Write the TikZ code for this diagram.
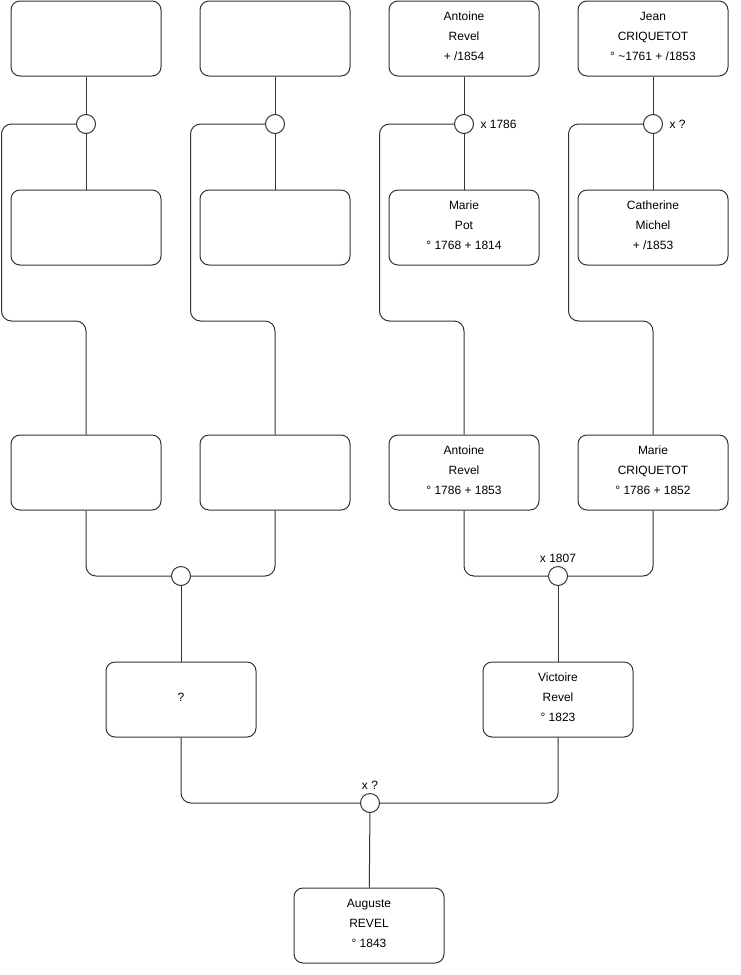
\documentclass[tikz,border=0pt]{standalone}
\usepackage{fontspec}
\setmainfont{Liberation Sans}
\usepackage{xcolor}
\usetikzlibrary{calc, positioning}
\definecolor{LineGray}{HTML}{333333}

\begin{document}
\begin{tikzpicture}[x=1pt, y=-1pt, line width=1pt,
        person/.style={draw=LineGray, rounded corners=9pt, fill=white,
                    minimum width=150pt, minimum height=75pt, text depth=5pt,
                    align=center, font=\fontsize{12}{20}\selectfont},
        union/.style={draw=LineGray, circle, fill=white, inner sep=0pt,
                    minimum size=19pt},
        wed/.style={font=\fontsize{12}{14}\selectfont, inner sep=2pt},
        link/.style={draw=LineGray, rounded corners=10pt}]

        \useasboundingbox (0,0) rectangle (740,975);

        % Great-grandparents (fathers)
        \node[person] (ff) at (86,38.5)  {};
        \node[person] (mf) at (275,38.5) {};
        \node[person] (af) at (464,38.5) {Antoine\\Revel\\+ /1854};
        \node[person] (jf) at (653,38.5) {Jean\\CRIQUETOT\\° \textasciitilde1761 + /1853};

        % Great-grandparents (mothers)
        \node[person] (fm) at (86,227.5)  {};
        \node[person] (mm) at (275,227.5) {};
        \node[person] (am) at (464,227.5) {Marie\\Pot\\° 1768 + 1814};
        \node[person] (jm) at (653,227.5) {Catherine\\Michel\\+ /1853};

        % Grandparents
        \node[person] (gf)  at (86,472.5)  {};
        \node[person] (gm)  at (275,472.5) {};
        \node[person] (ar)  at (464,472.5) {Antoine\\Revel\\° 1786 + 1853};
        \node[person] (mc)  at (653,472.5) {Marie\\CRIQUETOT\\° 1786 + 1852};

        % Parents
        \node[person] (father) at (181,699.5) {?};
        \node[person] (mother) at (558,699.5) {Victoire\\Revel\\° 1823};

        % Child
        \node[person] (child) at (369,925.5) {Auguste\\REVEL\\° 1843};

        % Unions
        \node[union] (u1) at (86,124)  {};
        \node[union] (u2) at (275,124) {};
        \node[union] (u3) at (464,124) {};
        \node[union] (u4) at (653,124) {};
        \node[union] (u5) at (181,576) {};
        \node[union] (u6) at (558,576) {};
        \node[union] (u7) at (370,803) {};

        % Bends of the side links
        \coordinate (k1) at (1.5,321);
        \coordinate (k2) at (190.5,321);
        \coordinate (k3) at (379.5,321);
        \coordinate (k4) at (568.5,321);

        % Couples
        \foreach \f/\u/\m in {ff/u1/fm, mf/u2/mm, af/u3/am, jf/u4/jm} {
          \draw[LineGray] (\f) -- (\u);
          \draw[LineGray] (\u) -- (\m);
        }

        % Unions down to their children
        \draw[link] (u1.west) -| (k1) -| (gf.north);
        \draw[link] (u2.west) -| (k2) -| (gm.north);
        \draw[link] (u3.west) -| (k3) -| (ar.north);
        \draw[link] (u4.west) -| (k4) -| (mc.north);

        \draw[link] (gf.south) |- (u5.west);
        \draw[link] (gm.south) |- (u5.east);
        \draw[link] (ar.south) |- (u6.west);
        \draw[link] (mc.south) |- (u6.east);
        \draw[LineGray] (u5) -- (father);
        \draw[LineGray] (u6) -- (mother);

        \draw[link] (father.south) |- (u7.west);
        \draw[link] (mother.south) |- (u7.east);
        \draw[LineGray] (u7) -- (child);

        % Marriage labels
        \node[wed, anchor=west] at ([xshift=4pt]u3.east) {x 1786};
        \node[wed, anchor=west] at ([xshift=4pt]u4.east) {x ?};
        \node[wed, anchor=south] at ([yshift=1pt]u6.north) {x 1807};
        \node[wed, anchor=south] at ([yshift=1pt]u7.north) {x ?};
      \end{tikzpicture}
\end{document}
